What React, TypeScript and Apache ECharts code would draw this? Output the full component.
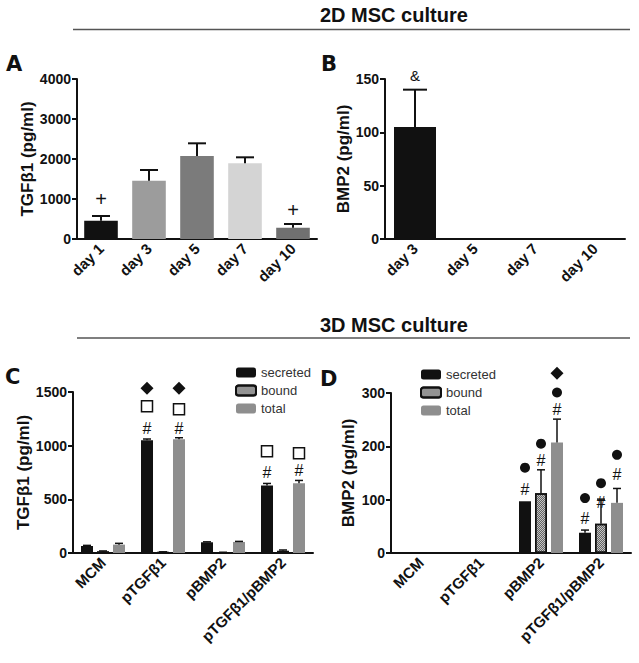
import React, { useEffect, useRef } from "react";
import * as echarts from "echarts";

// ---- Panel A: TGFβ1 2D ----
const catsA = ["day 1", "day 3", "day 5", "day 7", "day 10"];
const valsA = [457, 1458, 2075, 1892, 283];
const errA = [118, 267, 317, 150, 92];
const colorsA = ["#111111", "#9c9c9c", "#7b7b7b", "#d4d4d4", "#707070"];
// [category, y, symbol]
const marksA: [number, number, string][] = [
  [0, 1000, "+"],
  [4, 725, "+"],
];

// ---- Panel B: BMP2 2D ----
const catsB = ["day 3", "day 5", "day 7", "day 10"];
const valsB = [105, 1, 0, 0];
const errB = [35, 0, 0, 0];
const marksB: [number, number, string][] = [[0, 153, "&"]];

// ---- Panel C: TGFβ1 3D ----
const catsCD = ["MCM", "pTGFβ1", "pBMP2", "pTGFβ1/pBMP2"];
const seriesNames = ["secreted", "bound", "total"];
const secretedC = [65, 1050, 100, 630];
const secretedCErr = [6, 12, 4, 18];
const boundC = [15, 8, 5, 20];
const boundCErr = [4, 3, 2, 8];
const totalC = [78, 1060, 103, 650];
const totalCErr = [12, 14, 5, 26];
// [category, seriesIndex, y, symbol]
const marksC: [number, number, number, string][] = [
  [1, 0, 1162, "#"],
  [1, 0, 1367, "□"],
  [1, 0, 1535, "◆"],
  [1, 2, 1162, "#"],
  [1, 2, 1339, "□"],
  [1, 2, 1535, "◆"],
  [3, 0, 752, "#"],
  [3, 0, 948, "□"],
  [3, 2, 771, "#"],
  [3, 2, 929, "□"],
];

// ---- Panel D: BMP2 3D ----
const secretedD = [0, 0, 97, 38];
const secretedDErr = [0, 0, 0, 5];
const boundD = [0, 0, 112, 55];
const boundDErr = [0, 0, 44, 46];
const totalD = [0, 0, 207, 94];
const totalDErr = [0, 0, 44, 27];
const marksD: [number, number, number, string][] = [
  [2, 0, 120, "#"],
  [2, 0, 160, "●"],
  [2, 1, 173, "#"],
  [2, 1, 205, "●"],
  [2, 2, 269, "#"],
  [2, 2, 301, "●"],
  [2, 2, 337, "◆"],
  [3, 0, 65, "#"],
  [3, 0, 103, "●"],
  [3, 1, 95, "#"],
  [3, 1, 131, "●"],
  [3, 2, 148, "#"],
  [3, 2, 184, "●"],
];

const FONT = "Liberation Sans, Arial, sans-serif";
const BAR_W = 12;
const BAR_GAP = 4;
const STEP = BAR_W + BAR_GAP;
const seriesColors = ["#111111", "#c4c4c4", "#8e8e8e"];

function symbolShape(sym: string, x: number, y: number): any {
  if (sym === "●") {
    return { type: "circle", shape: { cx: x, cy: y, r: 5 }, style: { fill: "#111" } };
  }
  if (sym === "□") {
    return {
      type: "rect",
      shape: { x: x - 5.5, y: y - 5.5, width: 11, height: 11 },
      style: { fill: "#fff", stroke: "#111", lineWidth: 1.5 },
    };
  }
  if (sym === "◆") {
    return {
      type: "polygon",
      shape: { points: [[x, y - 6.5], [x + 6.5, y], [x, y + 6.5], [x - 6.5, y]] },
      style: { fill: "#111" },
    };
  }
  const size = sym === "+" ? 20 : sym === "&" ? 15 : 16;
  return {
    type: "text",
    x,
    y,
    style: {
      text: sym,
      fontSize: size,
      fontFamily: FONT,
      fill: "#111",
      align: "center",
      verticalAlign: "middle",
    },
  };
}

function errSeries(axis: number, vals: number[], errs: number[], offset: number, capHalf: number, lw: number) {
  return {
    type: "custom",
    xAxisIndex: axis,
    yAxisIndex: axis,
    z: 5,
    clip: false,
    data: vals.map((v, i) => [i, v, errs[i]]),
    encode: { x: 0, y: 1 },
    renderItem: (params: any, api: any) => {
      const i = api.value(0);
      const m = api.value(1);
      const e = api.value(2);
      if (!e) return null;
      const p0 = api.coord([i, m]);
      const p1 = api.coord([i, m + e]);
      const cx = p0[0] + offset;
      return {
        type: "group",
        children: [
          { type: "line", shape: { x1: cx, y1: p0[1], x2: cx, y2: p1[1] }, style: { stroke: "#111", lineWidth: lw } },
          { type: "line", shape: { x1: cx - capHalf, y1: p1[1], x2: cx + capHalf, y2: p1[1] }, style: { stroke: "#111", lineWidth: lw } },
        ],
      };
    },
  };
}

function markSeries(axis: number, marks: [number, number, number, string][]) {
  return {
    type: "custom",
    xAxisIndex: axis,
    yAxisIndex: axis,
    z: 6,
    clip: false,
    data: marks.map((m) => [m[0], m[2]]),
    encode: { x: 0, y: 1 },
    renderItem: (params: any, api: any) => {
      const m = marks[params.dataIndex];
      const p = api.coord([m[0], m[2]]);
      return symbolShape(m[3], p[0] + (m[1] - 1) * STEP, p[1]);
    },
  };
}

function xAxis(grid: number, data: string[]) {
  return {
    type: "category",
    gridIndex: grid,
    data,
    axisLine: { lineStyle: { color: "#111", width: 2 } },
    axisTick: { alignWithLabel: true, length: 5, lineStyle: { color: "#111", width: 2 } },
    axisLabel: { rotate: 45, fontWeight: "bold", fontSize: 15, color: "#111", margin: 7, fontFamily: FONT, interval: 0 },
  };
}

function yAxis(grid: number, max: number, interval: number, name: string, nameGap: number) {
  return {
    type: "value",
    gridIndex: grid,
    min: 0,
    max,
    interval,
    name,
    nameLocation: "middle",
    nameGap,
    nameTextStyle: { fontWeight: "bold", fontSize: 17, color: "#111", fontFamily: FONT },
    axisLine: { show: true, lineStyle: { color: "#111", width: 2 } },
    axisTick: { show: true, length: 5, lineStyle: { color: "#111", width: 2 } },
    axisLabel: {
      fontWeight: "bold",
      fontSize: 14,
      color: "#111",
      margin: 6,
      fontFamily: FONT,
      formatter: (v: number) => String(v),
    },
    splitLine: { show: false },
  };
}

const boundDecal = {
  symbol: "rect",
  symbolSize: 1,
  dashArrayX: [[1, 1], [0, 1, 1, 0]],
  dashArrayY: [1, 0],
  color: "rgba(0,0,0,0.5)",
};

function groupBars(axis: number, data: number[][]) {
  return data.map((vals, s) => ({
    type: "bar",
    name: seriesNames[s],
    xAxisIndex: axis,
    yAxisIndex: axis,
    barWidth: BAR_W,
    barGap: "33.3%",
    data: vals,
    itemStyle:
      s === 1
        ? { color: seriesColors[1], borderColor: "#111", borderWidth: 1.5, decal: boundDecal }
        : { color: seriesColors[s] },
  }));
}

function panelLetter(text: string, x: number, y: number) {
  return {
    type: "text",
    x,
    y,
    style: { text, fontSize: 21, fontWeight: "bold", fontFamily: "DejaVu Sans, sans-serif", fill: "#111", verticalAlign: "middle" },
  };
}

function legend(left: number, top: number) {
  return {
    left,
    top,
    padding: 0,
    orient: "vertical",
    itemWidth: 20,
    itemHeight: 10,
    itemGap: 5,
    data: seriesNames,
    textStyle: { fontSize: 13, color: "#333", fontFamily: FONT },
    selectedMode: false,
  };
}

export default function App() {
  const ref = useRef<HTMLDivElement>(null);
  useEffect(() => {
    if (!ref.current) return;
    const chart = echarts.init(ref.current, undefined, { renderer: "svg" });
    const marksA4 = marksA.map((m) => [m[0], 1, m[1], m[2]] as [number, number, number, string]);
    const marksB4 = marksB.map((m) => [m[0], 1, m[1], m[2]] as [number, number, number, string]);
    const option: any = {
      animation: false,
      backgroundColor: "#fff",
      grid: [
        { left: 77, top: 79, width: 240, height: 160 },
        { left: 385, top: 79, width: 240, height: 160 },
        { left: 73, top: 392, width: 240, height: 161 },
        { left: 391, top: 393, width: 240, height: 160 },
      ],
      xAxis: [xAxis(0, catsA), xAxis(1, catsB), xAxis(2, catsCD), xAxis(3, catsCD)],
      yAxis: [
        yAxis(0, 4000, 1000, "TGFβ1 (pg/ml)", 40),
        yAxis(1, 150, 50, "BMP2 (pg/ml)", 28),
        yAxis(2, 1500, 500, "TGFβ1 (pg/ml)", 36),
        yAxis(3, 300, 100, "BMP2 (pg/ml)", 34),
      ],
      legend: [legend(235, 366), legend(420, 368)],
      graphic: [
        { type: "line", shape: { x1: 73, y1: 29.5, x2: 630, y2: 29.5 }, style: { stroke: "#555", lineWidth: 1.5 } },
        { type: "line", shape: { x1: 77, y1: 338, x2: 630, y2: 338 }, style: { stroke: "#555", lineWidth: 1.5 } },
        { type: "text", x: 320, y: 15, style: { text: "2D MSC culture", fontSize: 20, fontWeight: "bold", fontFamily: FONT, fill: "#111", verticalAlign: "middle" } },
        { type: "text", x: 320, y: 325, style: { text: "3D MSC culture", fontSize: 20, fontWeight: "bold", fontFamily: FONT, fill: "#111", verticalAlign: "middle" } },
        panelLetter("A", 6, 64),
        panelLetter("B", 321, 64),
        panelLetter("C", 5, 377),
        panelLetter("D", 320, 379),
      ],
      series: [
        {
          type: "bar",
          xAxisIndex: 0,
          yAxisIndex: 0,
          barWidth: "70%",
          data: valsA.map((v, i) => ({ value: v, itemStyle: { color: colorsA[i] } })),
        },
        errSeries(0, valsA, errA, 0, 9, 2),
        markSeries(0, marksA4),
        {
          type: "bar",
          xAxisIndex: 1,
          yAxisIndex: 1,
          barWidth: "70%",
          data: valsB,
          itemStyle: { color: "#111" },
        },
        errSeries(1, valsB, errB, 0, 12, 2),
        markSeries(1, marksB4),
        ...groupBars(2, [secretedC, boundC, totalC]),
        errSeries(2, secretedC, secretedCErr, -STEP, 4, 1.5),
        errSeries(2, boundC, boundCErr, 0, 4, 1.5),
        errSeries(2, totalC, totalCErr, STEP, 4, 1.5),
        markSeries(2, marksC),
        ...groupBars(3, [secretedD, boundD, totalD]),
        errSeries(3, secretedD, secretedDErr, -STEP, 4, 1.5),
        errSeries(3, boundD, boundDErr, 0, 4, 1.5),
        errSeries(3, totalD, totalDErr, STEP, 4, 1.5),
        markSeries(3, marksD),
      ],
    };
    chart.setOption(option);
    return () => chart.dispose();
  }, []);
  return <div ref={ref} style={{ position: "fixed", left: 0, top: 0, width: 639, height: 663, background: "#fff" }} />;
}
